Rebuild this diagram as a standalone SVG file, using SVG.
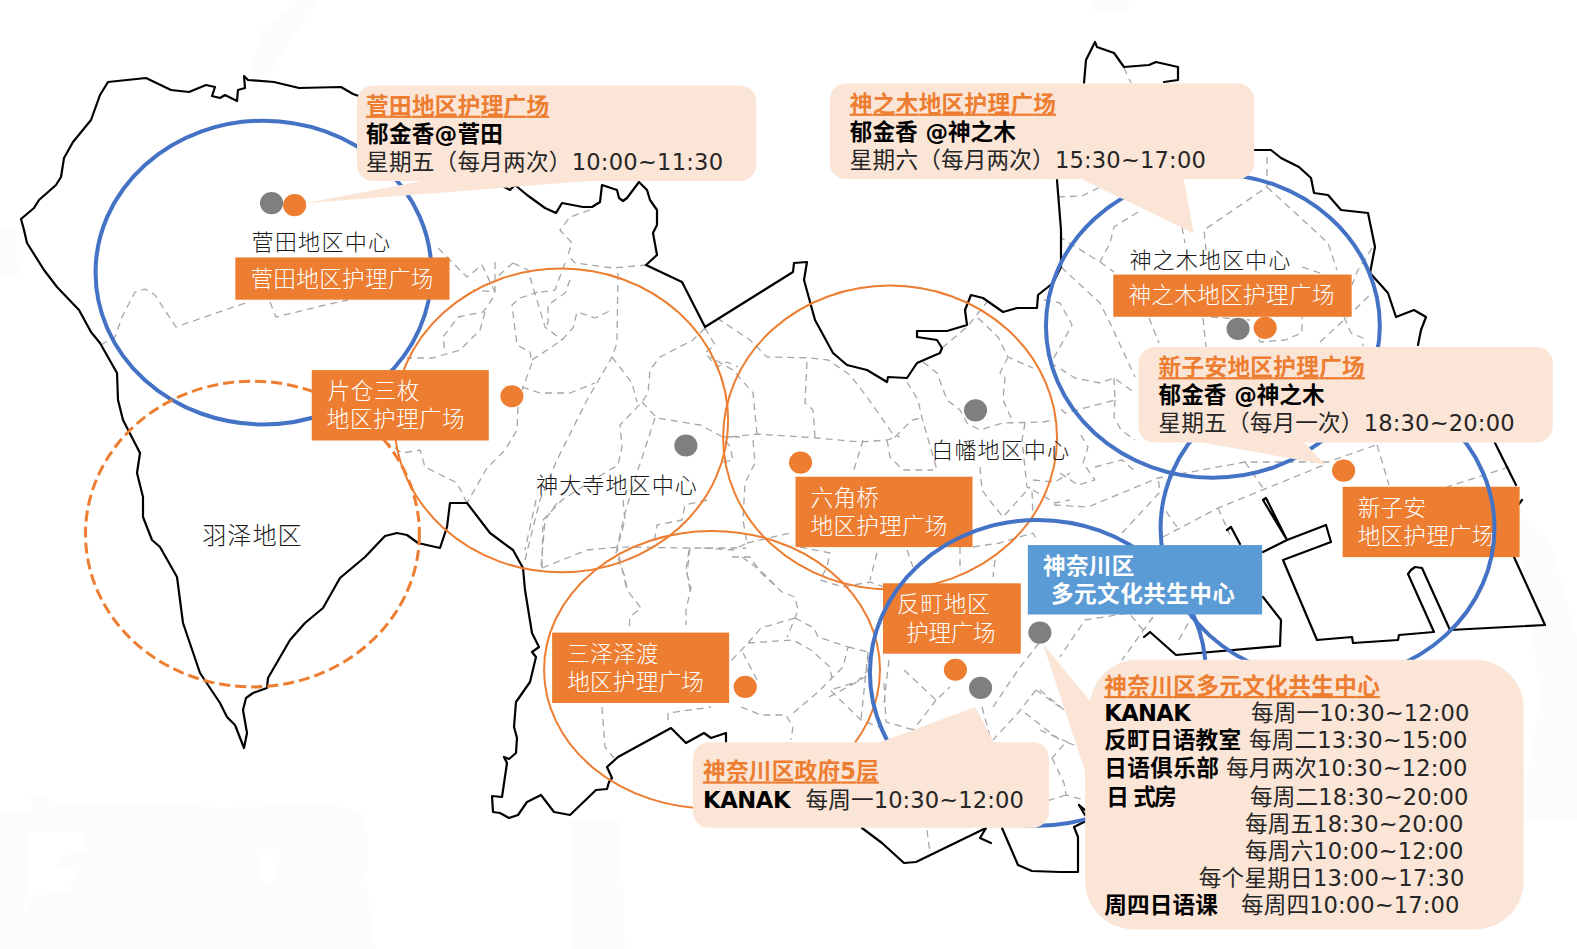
<svg xmlns="http://www.w3.org/2000/svg" width="1577" height="949" viewBox="0 0 1577 949">
<style>
text{font-family:"DejaVu Sans","Noto Sans CJK SC",sans-serif;font-size:22.5px;fill:#262626}
.w{fill:#fff;font-family:"Noto Sans CJK SC",sans-serif;font-weight:300}
.wb{fill:#fff;font-weight:700}
.h{fill:#ed7d31;font-weight:700;text-decoration:underline}
.b{fill:#000;font-weight:700}
.lab{font-size:22px;font-family:"Noto Sans CJK SC",sans-serif;font-weight:300;fill:#1a1a1a}
.box{fill:#ed7d31}
.call{fill:#fbe5d6}
.coast{fill:none;stroke:#000;stroke-width:2.2;stroke-linejoin:round;stroke-linecap:round}
.road{fill:none;stroke:#a6a6a6;stroke-width:1.3;stroke-dasharray:7 5;stroke-linejoin:round}
.cb{fill:none;stroke:#4472c4;stroke-width:4}
.co{fill:none;stroke:#ed7d31;stroke-width:2}
.cd{fill:none;stroke:#ed7d31;stroke-width:3;stroke-dasharray:11 5}
.dg{fill:#7f7f7f}
.do{fill:#ed7d31}
</style>
<rect width="1577" height="949" fill="#fff"/>
<g id="faint-patches" fill="#fdfcfc">
<path fill-rule="evenodd" d="M0 813L35 809L30 796L45 796L55 805L170 804L220 808L330 804L365 812L368 850L366 880L375 949L0 949ZM26 832L26 890L23 920L34 895L68 893L77 870L58 868L58 856L87 853L85 832ZM257 849L259 868L258 875L270 888L282 849Z"/>
<path d="M250 72L262 30L300 0L320 0L290 40L268 75Z"/>
<path d="M1090 0L1130 0L1125 12L1090 14Z"/>
<path d="M0 228L16 226L18 278L0 276Z"/>
<path d="M570 820L620 820L625 949L570 949Z"/>
<path d="M1510 500L1550 540L1577 640L1577 820L1520 820L1540 700L1530 600Z"/>
</g>
<g id="map">
<g id="roads">
<path class="road" d="M101 345L115 337L122 317L135 292L145 289L155 295L176 327L248 302M270 302L276 317L321 306L348 300"/>
<path class="road" d="M438 248L467 277L482 265L495 292L473 290M495 262L495 292M513 263L497 277M513 263L528 270L545 327L562 340M493 298L483 312L458 317L443 337L445 352M485 312L480 330L460 350L443 355L433 358L407 358M538 292L520 298L512 305L517 345L530 352L532 363L522 390M532 360L562 340L573 328L577 312L595 318L612 310M590 210L570 217L560 230L572 243L568 255L575 263L613 268L646 265M565 263L555 290L535 293M618 273L617 343L612 357L587 400L557 460L540 500L525 560M612 357L632 383L637 402M570 280L565 293L548 305L548 323L545 328M522 387L540 393L570 393L595 383M518 407L517 430L505 450L487 468L467 503M467 503L457 483L425 467L420 450L402 453L388 443"/>
<path class="road" d="M705 328L693 340L660 357L650 370L648 393L642 402L620 425L622 447L618 465L593 480L562 500L543 520L542 568M642 402L657 418L700 425L723 437L730 447L733 460L723 462M655 418L637 473L625 513L617 547L627 590M723 437L740 437M707 500L685 505L682 520L657 525L653 548M542 568L587 550L620 547L690 548L746 548M690 548L687 573L690 590M705 328L715 345L705 353L717 367L727 362L738 367"/>
<path class="road" d="M717 318L750 340L767 357L810 358L828 360L850 375L867 397L890 430L895 437L912 420L922 418M807 362L805 403L813 410L815 437M730 437L757 434L817 438L860 442L887 440L900 436M757 434L753 393L733 370L710 357M753 440L755 463L745 483L743 520L747 543L733 550L700 548M747 543L790 533M863 440L853 473M887 440L890 457L903 470L933 470M907 382L918 400L922 418L937 470M923 362L937 373L947 400L960 410L967 423L980 430L1003 423L1043 422L1055 420M1025 423L1022 440L1027 487L1032 490L1033 520M942 348L967 327L987 302M978 318L998 337L1008 357L1033 368M1008 357L1000 373L1005 377L1003 400L1012 420M980 467L982 490L987 497L1003 517L1030 487M1033 480L1055 482L1070 473M1033 490L1055 503L1070 500M960 547L960 570M973 547L1000 543L1033 533L1037 540M995 560L993 577M877 553L870 580M907 550L913 567M742 557L760 570L778 588M800 547L830 553L827 567L820 580L843 587L870 582L887 588"/>
<path class="road" d="M536 500L525 550M557 503L545 520L541 567M623 500L625 520L616 553L625 577L627 590L641 608L630 617L629 630M689 550L686 570L691 588L686 610L686 625M732 557L750 557L761 573L782 592L795 597L798 610L795 618L787 637M795 618L761 628L748 643L729 663M748 643L793 640L811 650L830 667L832 680M795 618L814 628L818 637L848 647L843 667L818 692L793 713M757 680L743 653M741 707L761 715L786 715L793 727L791 740M848 647L868 652L868 670L857 682L830 690L861 720L879 727M868 652L861 720M829 697L857 682L871 673M602 707L605 747L614 758M668 720L668 713L711 707M884 683L886 722L914 730M904 670L936 700L950 687M936 700L911 733M889 660L884 703M982 707L991 740M1039 643L1018 670L993 707M1036 690L1018 713L993 740M1036 690L1060 707M1025 713L1060 740M927 830L930 853"/>
<path class="road" d="M1054 505L1088 507L1158 478L1245 462L1328 462L1376 445M1122 533L1160 492L1158 478M1163 537L1218 508L1324 465M1143 630L1129 613L1085 620L1060 657M1377 445L1389 485M1245 462L1263 488M1509 467L1447 487M1177 527L1163 507M1153 617L1122 660M1194 613L1177 643M1040 690L1064 710M1040 730L1074 745M1052 758L1064 783L1066 795L1085 800M1066 795L1040 803M1074 745L1066 742L1052 758M1218 508L1230 535"/>
<path class="road" d="M1124 68L1131 83M1267 157L1267 187L1204 230L1206 250M1267 187L1328 243L1337 270M1058 197L1082 196L1100 187M1138 212L1114 227L1110 243L1100 262L1060 237M1100 262L1114 272M1182 227L1185 243M1372 248L1358 270L1352 285M1061 267L1100 303L1110 323L1135 377M1044 300L1060 303L1072 325L1051 363L1075 378L1100 383L1114 378L1135 393M1114 378L1115 400L1065 413L1060 408M1115 400L1114 417L1121 430L1135 440M1149 318L1159 343M1203 318L1206 347M1255 328L1260 342L1285 340L1302 333L1302 317M1320 342L1344 320L1372 293M1344 317L1351 333L1363 338L1363 346M1211 317L1250 320M1302 267L1320 273M1060 473L1078 485L1095 480L1083 463L1088 447L1081 435M1095 467L1122 460L1136 472"/>
</g>
<g id="coast">
<path class="coast" d="M140 453L137 473L143 497L143 517L152 540L160 547L177 577L183 623L200 673L220 703L227 717L235 725L244 748L247 733L243 710L246 698L253 693L267 688L268 678L290 640L305 623L323 608L340 578L365 557L385 536L397 533L407 535L418 543L440 548L447 527L450 503L467 503L490 533L513 550L523 568L525 590L532 633L539 647L532 652L536 657L530 682L516 702L514 727L517 738L516 753L509 759L504 757L507 763L502 797L492 796L493 812L500 813L509 818L518 815L527 802L541 795L554 812L570 815L596 790L607 789L609 782L612 778L607 767L618 757L671 728L686 743L704 733L711 738L726 733L726 742"/>
<path class="coast" d="M140 453L123 420L118 400L117 373L100 343L91 332L79 310L57 287L44 270L27 243L24 230L21 219L34 208L39 200L56 185L61 177L64 158L73 142L91 120L100 95L108 82L146 78L171 90L189 92L206 85L215 87L212 96L220 98L225 95L237 101L238 90L245 88L244 76L248 80L274 82L299 88L341 87L353 94L400 110L460 130L497 183L510 190L515 185L527 195L545 208L556 213L562 203L583 207L592 207L600 202L602 185L617 190L619 198L623 201L627 198L639 182L647 190L650 200L657 210L657 225L653 233L657 255L646 265L682 282L705 327L793 272L794 263L807 262L804 280L815 320L833 353L847 365L867 370L887 382L888 377L907 378L917 363L940 353L942 348L937 340L917 337L917 331L947 331L967 325L965 310L971 295L983 298L1003 312L1017 308L1037 308L1038 295L1053 283L1061 267L1061 230L1057 180"/>
<path class="coast" d="M1084 83L1086 60L1095 42L1097 47L1114 53L1124 67L1149 65L1156 62L1178 67L1178 80L1164 82M1253 150L1271 150L1281 158L1299 167L1311 178L1314 193L1328 195L1341 210L1368 213L1375 247L1370 273L1388 293L1396 317L1414 310L1426 317L1421 330L1418 345"/>
<path class="coast" d="M862 828L882 843L904 863L916 862L986 828L980 838L991 843M1002 828L1018 865L1032 871L1060 872L1078 872L1078 837L1074 827L1088 820M1079 805L1085 815"/>
<path class="coast" d="M1085 810L1079 805M1144 637L1150 632L1176 655L1280 646L1281 620L1263 597M1263 552L1287 540L1263 500L1266 498L1287 540L1326 525L1331 542L1283 560L1317 640L1352 637L1353 643L1398 640L1399 635L1434 632L1408 574L1411 570L1415 567L1422 568L1450 630L1545 625L1514 557M1495 443L1516 485M1227 530L1231 527L1240 544M1519 504L1522 500" stroke-width="2"/>
</g>
</g>
<g id="overlay" transform="scale(1.0057)">
<g id="coverage-circles">
<ellipse class="cb" cx="262" cy="271" rx="167" ry="151"/>
<ellipse class="cd" cx="251" cy="531" rx="166" ry="152"/>
<ellipse class="co" cx="558" cy="418" rx="166" ry="151"/>
<ellipse class="co" cx="885" cy="435" rx="166" ry="151"/>
<ellipse class="co" cx="708" cy="666" rx="167" ry="138"/>
<ellipse class="cb" cx="1206" cy="324" rx="166" ry="151"/>
</g>
<g id="dots">
<ellipse class="dg" cx="270" cy="202" rx="11.5" ry="11"/>
<ellipse class="do" cx="293" cy="204" rx="11.5" ry="11"/>
<ellipse class="dg" cx="1231" cy="327" rx="11.5" ry="11"/>
<ellipse class="do" cx="1258" cy="326" rx="11.5" ry="11"/>
<ellipse class="do" cx="509" cy="394" rx="11.5" ry="11"/>
<ellipse class="dg" cx="682" cy="443" rx="11.5" ry="11"/>
<ellipse class="dg" cx="970" cy="408" rx="11.5" ry="11"/>
<ellipse class="do" cx="796" cy="460" rx="11.5" ry="11"/>
<ellipse class="do" cx="1336" cy="468" rx="11.5" ry="11"/>
<ellipse class="dg" cx="1034" cy="629" rx="11.5" ry="11"/>
<ellipse class="do" cx="950" cy="666" rx="11.5" ry="11"/>
<ellipse class="dg" cx="975" cy="684" rx="11.5" ry="11"/>
<ellipse class="do" cx="741" cy="683" rx="11.5" ry="11"/>
</g>
<g id="area-labels">
<text class="lab" x="250" y="249" textLength="138">菅田地区中心</text>
<text class="lab" x="1123" y="266" textLength="160">神之木地区中心</text>
<text class="lab" x="533" y="490" textLength="160">神大寺地区中心</text>
<text class="lab" x="926" y="455" textLength="137">白幡地区中心</text>
<text class="lab" style="font-size:24px" x="201" y="541" textLength="99">羽泽地区</text>
</g>
<g id="node-sugeta"><rect class="box" x="234" y="256" width="213" height="42"/><text class="w" x="249" y="285" textLength="182">菅田地区护理广场</text></g>
<g id="node-kaminoki"><rect class="box" x="1107" y="273" width="237" height="42"/><text class="w" x="1122" y="301" textLength="205">神之木地区护理广场</text></g>
<g id="node-katakura"><rect class="box" x="310" y="368" width="176" height="70"/><text class="w" x="326" y="397" textLength="91">片仓三枚</text><text class="w" x="325" y="425" textLength="137">地区护理广场</text></g>
<g id="node-rokkakubashi"><rect class="box" x="791" y="474" width="176" height="70"/><text class="w" x="806" y="503" textLength="68">六角桥</text><text class="w" x="806" y="531" textLength="136">地区护理广场</text></g>
<g id="node-sorimachi"><rect class="box" x="878" y="580" width="137" height="70"/><text class="w" x="892" y="609" textLength="92">反町地区</text><text class="w" x="901" y="637" textLength="89">护理广场</text></g>
<g id="node-misawa"><rect class="box" x="549" y="629" width="176" height="70"/><text class="w" x="564" y="658" textLength="91">三泽泽渡</text><text class="w" x="564" y="686" textLength="136">地区护理广场</text></g>
<g id="node-shinkoyasu"><rect class="box" x="1335" y="484" width="176" height="70"/><text class="w" x="1350" y="513" textLength="68">新子安</text><text class="w" x="1350" y="541" textLength="136">地区护理广场</text></g>
<g id="over-circles">
<ellipse class="cb" cx="1032" cy="669" rx="167" ry="152"/>
<ellipse class="cb" cx="1320" cy="525" rx="166" ry="151"/>
</g>
<g id="node-center"><rect x="1022" y="542" width="233" height="69" fill="#5b9bd5"/><text class="wb" x="1037" y="571" textLength="91">神奈川区</text><text class="wb" x="1045" y="599" textLength="183">多元文化共生中心</text></g>
<g id="callout-sugeta"><path class="call" d="M371 85H736A16 16 0 0 1 752 101V164A16 16 0 0 1 736 180H585L303 202L420 180H371A16 16 0 0 1 355 164V101A16 16 0 0 1 371 85Z"/>
<text class="h" x="364" y="113" textLength="182">菅田地区护理广场</text><text class="b" x="364" y="141" textLength="136">郁金香@菅田</text><text x="364" y="169" textLength="355">星期五（每月两次）10:00~11:30</text></g>
<g id="callout-kaminoki"><path class="call" d="M841 83H1231A16 16 0 0 1 1247 99V162A16 16 0 0 1 1231 178H1177L1187 232L1075 178H841A16 16 0 0 1 825 162V99A16 16 0 0 1 841 83Z"/>
<text class="h" x="845" y="111" textLength="205">神之木地区护理广场</text><text class="b" x="845" y="139" textLength="165">郁金香 @神之木</text><text x="845" y="167" textLength="354">星期六（每月两次）15:30~17:00</text></g>
<g id="callout-shinkoyasu"><path class="call" d="M1148 345H1528A16 16 0 0 1 1544 361V424A16 16 0 0 1 1528 440H1297L1318 462L1195 440H1148A16 16 0 0 1 1132 424V361A16 16 0 0 1 1148 345Z"/>
<text class="h" x="1152" y="373" textLength="205">新子安地区护理广场</text><text class="b" x="1152" y="401" textLength="165">郁金香 @神之木</text><text x="1152" y="429" textLength="354">星期五（每月一次）18:30~20:00</text></g>
<g id="callout-ward"><path class="call" d="M705 738H875L970 703L988 738H1027A16 16 0 0 1 1043 754V807A16 16 0 0 1 1027 823H705A16 16 0 0 1 689 807V754A16 16 0 0 1 705 738Z"/>
<text class="h" x="699" y="775" textLength="175">神奈川区政府5层</text><text class="b" x="699" y="803" textLength="87">KANAK</text><text x="801" y="803" textLength="217">每周一10:30~12:00</text></g>
<g id="callout-center"><path class="call" d="M1126 656H1467A48 48 0 0 1 1515 704V876A48 48 0 0 1 1467 924H1127A48 48 0 0 1 1079 876V767L1037 640L1084 697A48 48 0 0 1 1126 656Z"/>
<text class="h" x="1098" y="690" textLength="274">神奈川区多元文化共生中心</text>
<text class="b" x="1098" y="717" textLength="86">KANAK</text><text x="1244" y="717" textLength="217">每周一10:30~12:00</text>
<text class="b" x="1098" y="744" textLength="136">反町日语教室</text><text x="1242" y="744" textLength="217">每周二13:30~15:00</text>
<text class="b" x="1098" y="772" textLength="114">日语俱乐部</text><text x="1219" y="772" textLength="240">每月两次10:30~12:00</text>
<text class="b" x="1100" y="800" textLength="70">日 式房</text><text x="1243" y="800" textLength="217">每周二18:30~20:00</text>
<text x="1238" y="827" textLength="217">每周五18:30~20:00</text>
<text x="1238" y="854" textLength="217">每周六10:00~12:00</text>
<text x="1192" y="881" textLength="264">每个星期日13:00~17:30</text>
<text class="b" x="1098" y="908" textLength="113">周四日语课</text><text x="1234" y="908" textLength="217">每周四10:00~17:00</text></g>
</g>
</svg>
